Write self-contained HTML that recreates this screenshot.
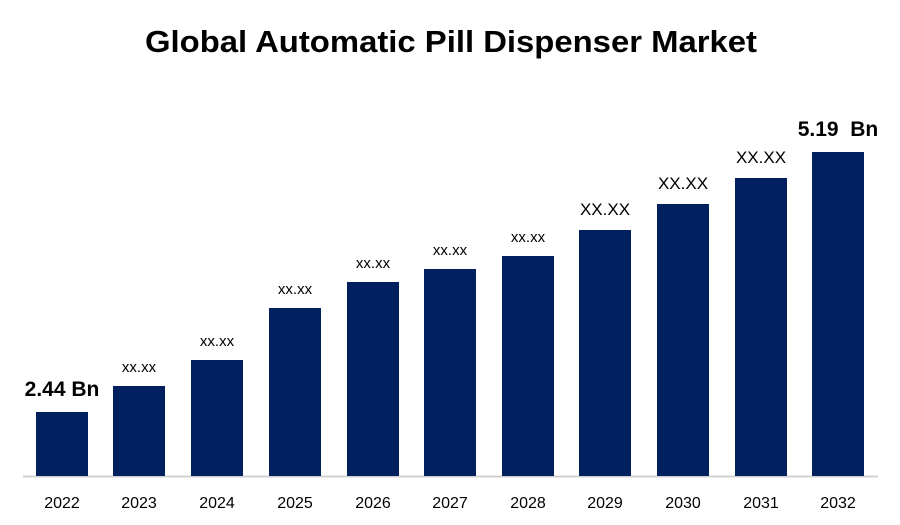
<!DOCTYPE html>
<html><head><meta charset="utf-8"><style>body{margin:0;background:#fff}svg{display:block}</style></head>
<body>
<svg width="900" height="525" xmlns="http://www.w3.org/2000/svg" font-family="Liberation Sans, sans-serif">
<rect width="900" height="525" fill="#fff"/>
<text x="145" y="52" font-size="31" font-weight="bold" fill="#000" textLength="612" lengthAdjust="spacingAndGlyphs">Global Automatic Pill Dispenser Market</text>
<line x1="23" y1="476.5" x2="878" y2="476.5" stroke="#d0d0d0" stroke-width="2"/>
<g fill="#002060">
<rect x="36" y="412" width="52" height="64"/>
<rect x="113" y="386" width="52" height="90"/>
<rect x="191" y="360" width="52" height="116"/>
<rect x="269" y="308" width="52" height="168"/>
<rect x="347" y="282" width="52" height="194"/>
<rect x="424" y="269" width="52" height="207"/>
<rect x="502" y="256" width="52" height="220"/>
<rect x="579" y="230" width="52" height="246"/>
<rect x="657" y="204" width="52" height="272"/>
<rect x="735" y="178" width="52" height="298"/>
<rect x="812" y="152" width="52" height="324"/>
</g>
<g font-size="16" text-anchor="middle" fill="#000">
<text x="62" y="508">2022</text><text x="139" y="508">2023</text><text x="217" y="508">2024</text>
<text x="295" y="508">2025</text><text x="373" y="508">2026</text><text x="450" y="508">2027</text>
<text x="528" y="508">2028</text><text x="605" y="508">2029</text><text x="683" y="508">2030</text>
<text x="761" y="508">2031</text><text x="838" y="508">2032</text>
</g>
<g font-size="15" text-anchor="middle" fill="#000">
<text x="139" y="372">xx.xx</text><text x="217" y="346">xx.xx</text><text x="295" y="294">xx.xx</text>
<text x="373" y="268">xx.xx</text><text x="450" y="255">xx.xx</text><text x="528" y="242">xx.xx</text>
</g>
<g font-size="17" text-anchor="middle" fill="#000">
<text x="605" y="215">XX.XX</text><text x="683" y="189">XX.XX</text><text x="761" y="163">XX.XX</text>
</g>
<text x="62" y="396" text-anchor="middle" font-size="21" font-weight="bold">2.44 Bn</text>
<text x="838" y="136" text-anchor="middle" font-size="21" font-weight="bold" xml:space="preserve">5.19  Bn</text>
</svg>
</body></html>
